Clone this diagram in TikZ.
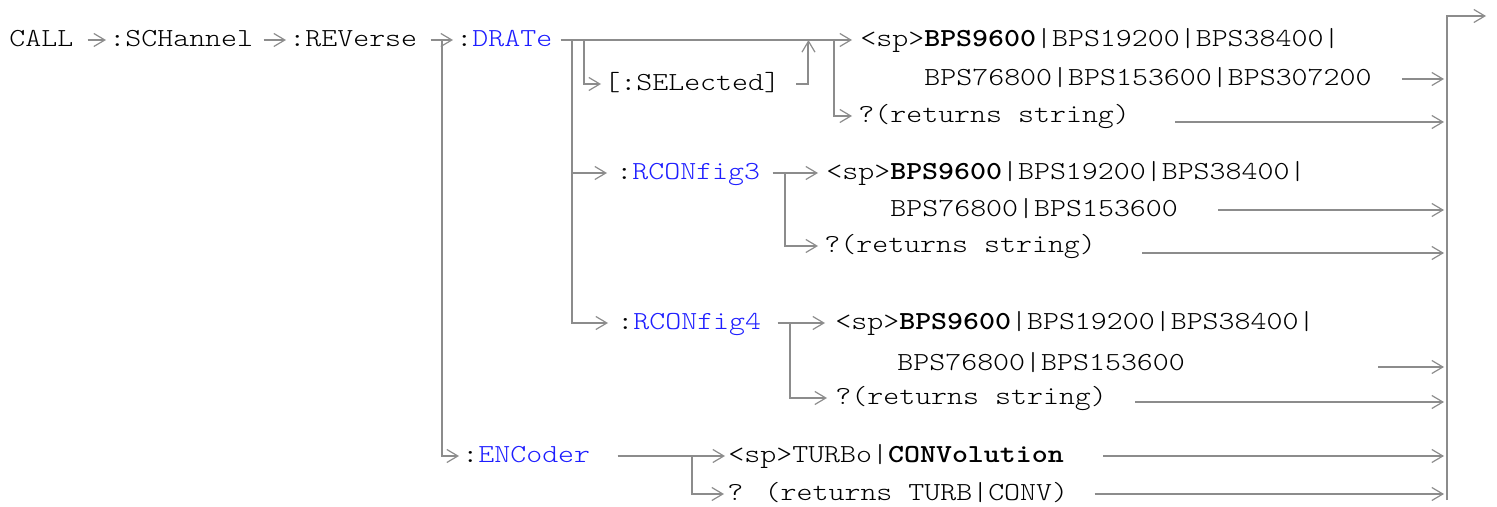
\documentclass[tikz,border=0pt]{standalone}
\usepackage{fontspec}
\setmainfont{lmmonolt10-regular.otf}[BoldFont=lmmonolt10-bold.otf, FakeStretch=1.17]
\usetikzlibrary{arrows.meta}
\definecolor{lngray}{RGB}{140,140,140}
\definecolor{kwblue}{RGB}{30,30,255}
\newcommand{\kwd}[1]{\textcolor{kwblue}{#1}}
\tikzset{
  txt/.style={anchor=west, inner sep=0pt, text height=7.8pt, text depth=1.2pt},
  ln/.style={draw=lngray, line width=1pt},
  arr/.style={ln, -{Straight Barb[length=5.5pt, width=6.5pt, line width=0.6pt]}, shorten >=1.5pt},
}
\begin{document}
\begin{tikzpicture}[x=0.5pt, y=-0.5pt, font=\fontsize{13}{16}\selectfont]
\useasboundingbox (0,0) rectangle (1497,507);
\node[txt] (call) at (9,40) {CALL};
\node[txt] (schan) at (109,40) {:SCHannel};
\node[txt] (rev) at (289,40) {:REVerse};
\node[txt] (drate) at (456,40) {:\kwd{DRATe}};
\node[txt] (sel) at (604,84) {[:SELected]};
\node[txt] (d1a) at (860,40) {<sp>\textbf{BPS9600}|BPS19200|BPS38400|};
\node[txt] (d1b) at (924,79) {BPS76800|BPS153600|BPS307200};
\node[txt] (dq) at (858,116) {?(returns string)};
\node[txt] (rc3) at (616,173) {:\kwd{RCONfig3}};
\node[txt] (r3a) at (826,173) {<sp>\textbf{BPS9600}|BPS19200|BPS38400|};
\node[txt] (r3b) at (890,210) {BPS76800|BPS153600};
\node[txt] (r3q) at (824,246) {?(returns string)};
\node[txt] (rc4) at (617,323) {:\kwd{RCONfig4}};
\node[txt] (r4a) at (835,323) {<sp>\textbf{BPS9600}|BPS19200|BPS38400|};
\node[txt] (r4b) at (897,364) {BPS76800|BPS153600};
\node[txt] (r4q) at (835,398) {?(returns string)};
\node[txt] (enc) at (462,456) {:\kwd{ENCoder}};
\node[txt] (ea) at (728,456) {<sp>TURBo|\textbf{CONVolution}};
\node[txt] (eq) at (727,494) {? (returns TURB|CONV)};

\coordinate (bartop) at (1447,16);
\coordinate (barbot) at (1447,500);
\coordinate (exit) at (1486,16);
\coordinate (selup) at ([xshift=14pt]sel.east);

\draw[arr] ([xshift=7pt]call.east) -- (schan.west);
\draw[arr] ([xshift=5pt]schan.east) -- (rev.west);
\draw[arr] ([xshift=6.5pt]rev.east) -- (drate.west);
\draw[arr] ([xshift=12pt]rev.east) |- (enc.west);
\draw[arr, shorten >=4pt] ([xshift=4pt]drate.east) -- (d1a.west);
\draw[arr] ([xshift=15.5pt]drate.east) |- (sel.west);
\draw[arr, shorten >=0pt] ([xshift=8pt]sel.east) -| (selup |- drate.east);
\draw[arr, shorten >=3pt] ([xshift=-13pt]d1a.west) |- (dq.west);
\draw[arr, shorten >=4.5pt] ([xshift=9.5pt]drate.east) |- (rc3.west);
\draw[arr, shorten >=4.5pt] ([xshift=9.5pt]drate.east) |- (rc4.west);
\draw[arr, shorten >=4pt] ([xshift=6pt]rc3.east) -- (r3a.west);
\draw[arr, shorten >=3pt] ([xshift=12pt]rc3.east) |- (r3q.west);
\draw[arr, shorten >=5pt] ([xshift=8pt]rc4.east) -- (r4a.west);
\draw[arr, shorten >=4pt] ([xshift=14pt]rc4.east) |- (r4q.west);
\draw[arr] ([xshift=13.5pt]enc.east) -- (ea.west);
\draw[arr] ([xshift=50.5pt]enc.east) |- (eq.west);

\draw[arr, shorten >=0pt] (barbot) -- (bartop) -- (exit);
\foreach \n/\gap/\dy in {d1b/15pt/0pt, dq/22.5pt/-3pt, r3b/20pt/0pt, r3q/23pt/-3.5pt,
                         r4b/96.5pt/-1.5pt, r4q/14pt/-2pt, ea/19.5pt/0pt, eq/13pt/0pt} {
  \path ([xshift=\gap, yshift=\dy]\n.east) coordinate (s);
  \draw[arr] (s) -- (s -| bartop);
}
\end{tikzpicture}
\end{document}
